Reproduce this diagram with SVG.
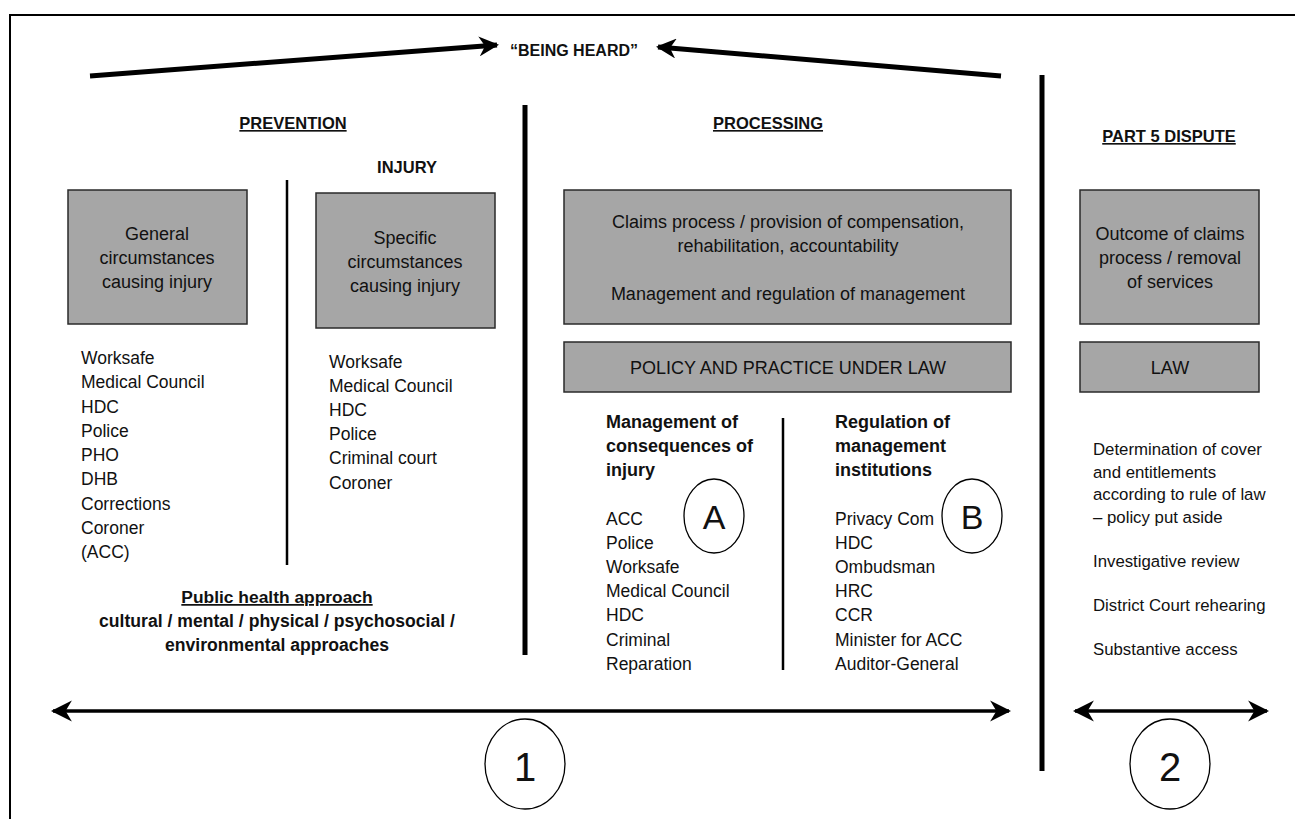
<svg xmlns="http://www.w3.org/2000/svg" width="1295" height="819" viewBox="0 0 1295 819">
<defs>
<style>
text{font-family:"Liberation Sans",Arial,sans-serif;fill:#111;}
.t{font-size:17.5px;}
.bt{font-size:18px;}
.b{font-weight:bold;font-size:16.5px;}
.bb{font-weight:bold;font-size:18px;}
.h{font-weight:bold;font-size:16.5px;text-decoration:underline;}
.m{text-anchor:middle;}
.r{font-size:16.8px;}
.box{fill:#a6a6a6;stroke:#2a2a2a;stroke-width:1.5;}
.thick{stroke:#000;stroke-width:5;fill:none;}
.thin{stroke:#000;stroke-width:2.5;fill:none;}
.circ{fill:#fff;stroke:#000;stroke-width:1.3;}
</style>
<marker id="ah" viewBox="0 0 10 10" refX="9" refY="5" markerWidth="4" markerHeight="4" orient="auto-start-reverse" markerUnits="strokeWidth">
<path d="M0,0 L10,5 L0,10 L3,5 Z" fill="#000"/>
</marker>
<marker id="ah2" viewBox="0 0 10 10" refX="9" refY="5" markerWidth="6" markerHeight="7" orient="auto-start-reverse" markerUnits="strokeWidth">
<path d="M0,0 L10,5 L0,10 L3,5 Z" fill="#000"/>
</marker>
</defs>
<rect width="1295" height="819" fill="#fff"/>
<path d="M10,830 L10,15 L1300,15" fill="none" stroke="#000" stroke-width="2"/>

<g id="connectors">
<line x1="90" y1="76" x2="497" y2="45" class="thick" marker-end="url(#ah)"/>
<line x1="1001" y1="76" x2="658" y2="47" class="thick" marker-end="url(#ah)"/>
<line x1="525" y1="105" x2="525" y2="655" class="thick"/>
<line x1="1042" y1="75" x2="1042" y2="771" class="thick"/>
<line x1="287" y1="180" x2="287" y2="565" class="thin"/>
<line x1="783" y1="418" x2="783" y2="670" class="thin"/>
<line x1="53" y1="711" x2="1009" y2="711" stroke="#000" stroke-width="3.5" marker-start="url(#ah2)" marker-end="url(#ah2)"/>
<line x1="1075" y1="711" x2="1267" y2="711" stroke="#000" stroke-width="3.5" marker-start="url(#ah2)" marker-end="url(#ah2)"/>
</g>

<g id="being-heard"><text x="574" y="56" class="b m" style="font-size:16px">“BEING HEARD”</text></g>

<g id="headers">
<text x="293" y="129" class="h m">PREVENTION</text>
<text x="407" y="173" class="b m">INJURY</text>
<text x="768" y="129" class="h m">PROCESSING</text>
<text x="1169" y="142" class="h m">PART 5 DISPUTE</text>
</g>

<g id="general">
<rect x="68" y="190" width="179" height="134" class="box"/>
<text x="157" y="240" class="bt m">General</text>
<text x="157" y="264" class="bt m">circumstances</text>
<text x="157" y="288" class="bt m">causing injury</text>
</g>
<g id="specific">
<rect x="316" y="193" width="179" height="135" class="box"/>
<text x="405" y="244" class="bt m">Specific</text>
<text x="405" y="268" class="bt m">circumstances</text>
<text x="405" y="292" class="bt m">causing injury</text>
</g>
<g id="claims">
<rect x="564" y="190" width="447" height="134" class="box"/>
<text x="788" y="228" class="bt m">Claims process / provision of compensation,</text>
<text x="788" y="252" class="bt m">rehabilitation, accountability</text>
<text x="788" y="300" class="bt m">Management and regulation of management</text>
</g>
<g id="policy">
<rect x="564" y="342" width="447" height="50" class="box"/>
<text x="788" y="374" class="bt m">POLICY AND PRACTICE UNDER LAW</text>
</g>
<g id="outcome">
<rect x="1080" y="190" width="179" height="134" class="box"/>
<text x="1170" y="240" class="bt m">Outcome of claims</text>
<text x="1170" y="264" class="bt m">process / removal</text>
<text x="1170" y="288" class="bt m">of services</text>
</g>
<g id="law">
<rect x="1080" y="342" width="179" height="50" class="box"/>
<text x="1170" y="374" class="bt m">LAW</text>
</g>

<g id="general-list" class="t">
<text x="81" y="364">Worksafe</text>
<text x="81" y="388">Medical Council</text>
<text x="81" y="413">HDC</text>
<text x="81" y="437">Police</text>
<text x="81" y="461">PHO</text>
<text x="81" y="485">DHB</text>
<text x="81" y="510">Corrections</text>
<text x="81" y="534">Coroner</text>
<text x="81" y="558">(ACC)</text>
</g>
<g id="specific-list" class="t">
<text x="329" y="368">Worksafe</text>
<text x="329" y="392">Medical Council</text>
<text x="329" y="416">HDC</text>
<text x="329" y="440">Police</text>
<text x="329" y="464">Criminal court</text>
<text x="329" y="489">Coroner</text>
</g>
<g id="public-health">
<text x="277" y="603" class="h m" style="font-size:17.4px">Public health approach</text>
<text x="277" y="627" class="b m" style="font-size:17.6px">cultural / mental / physical / psychosocial /</text>
<text x="277" y="651" class="b m" style="font-size:17.6px">environmental approaches</text>
</g>

<g id="management">
<text x="606" y="428" class="bb">Management of</text>
<text x="606" y="452" class="bb">consequences of</text>
<text x="606" y="476" class="bb">injury</text>
<text x="606" y="525" class="t">ACC</text>
<text x="606" y="549" class="t">Police</text>
<text x="606" y="573" class="t">Worksafe</text>
<text x="606" y="597" class="t">Medical Council</text>
<text x="606" y="621" class="t">HDC</text>
<text x="606" y="646" class="t">Criminal</text>
<text x="606" y="670" class="t">Reparation</text>
</g>
<g id="circle-a">
<ellipse cx="714" cy="516" rx="30" ry="37" class="circ"/>
<text x="714" y="529" class="m" style="font-size:34px">A</text>
</g>
<g id="regulation">
<text x="835" y="428" class="bb">Regulation of</text>
<text x="835" y="452" class="bb">management</text>
<text x="835" y="476" class="bb">institutions</text>
<text x="835" y="525" class="t">Privacy Com</text>
<text x="835" y="549" class="t">HDC</text>
<text x="835" y="573" class="t">Ombudsman</text>
<text x="835" y="597" class="t">HRC</text>
<text x="835" y="621" class="t">CCR</text>
<text x="835" y="646" class="t">Minister for ACC</text>
<text x="835" y="670" class="t">Auditor-General</text>
</g>
<g id="circle-b">
<ellipse cx="972" cy="516" rx="30" ry="37" class="circ"/>
<text x="972" y="529" class="m" style="font-size:34px">B</text>
</g>

<g id="dispute-list" class="r">
<text x="1093" y="455">Determination of cover</text>
<text x="1093" y="478">and entitlements</text>
<text x="1093" y="500">according to rule of law</text>
<text x="1093" y="523">– policy put aside</text>
<text x="1093" y="567">Investigative review</text>
<text x="1093" y="611">District Court rehearing</text>
<text x="1093" y="655">Substantive access</text>
</g>

<g id="circle-1">
<ellipse cx="525" cy="764" rx="40" ry="45" class="circ"/>
<text x="525" y="781" class="m" style="font-size:40px">1</text>
</g>
<g id="circle-2">
<ellipse cx="1170" cy="764" rx="40" ry="45" class="circ"/>
<text x="1170" y="781" class="m" style="font-size:40px">2</text>
</g>
</svg>
